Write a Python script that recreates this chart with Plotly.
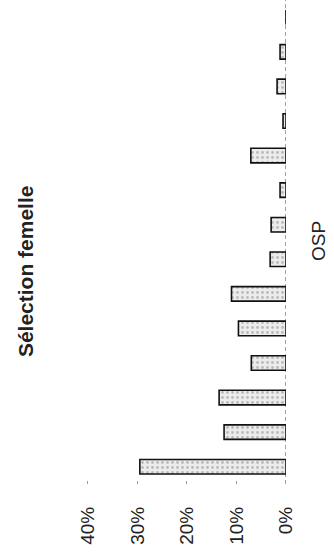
import plotly.graph_objects as go

# OSP categories, bottom to top as drawn
osp = [str(i) for i in range(1, 15)]
share = [0.295, 0.125, 0.135, 0.070, 0.096, 0.110, 0.032, 0.030,
         0.012, 0.071, 0.006, 0.018, 0.012, 0.0]

tick_vals = [0, 0.1, 0.2, 0.3, 0.4]
tick_text = ['0%', '10%', '20%', '30%', '40%']

title_text = 'Sélection femelle'
axis_text = 'OSP'

font = "Liberation Sans, Arial, sans-serif"

bars = go.Bar(
    x=share,
    y=osp,
    orientation='h',
    width=0.42,
    marker=dict(
        color='#ececec',
        line=dict(color='#111111', width=1.6),
        pattern=dict(shape='.', fgcolor='#8a8a8a', bgcolor='#ececec',
                     size=5, solidity=0.25),
    ),
    hovertemplate="OSP %{y}: %{x:.1%}<extra></extra>",
)

fig = go.Figure(data=bars)

fig.update_xaxes(range=[0.436, 0], tickvals=tick_vals, ticktext=tick_text,
                 tickangle=-90, ticks='inside', ticklen=3, tickcolor='#999999',
                 ticklabelstandoff=18, showgrid=False, zeroline=False,
                 showline=False, tickfont=dict(size=19, color='#222222'))
fig.update_yaxes(type='category', range=[-0.5, 13.5], showticklabels=False,
                 showgrid=False, zeroline=False, showline=False, ticks='')

# dashed baseline at 0%
fig.add_shape(type='line', xref='x', yref='paper', x0=0, x1=0, y0=0, y1=1,
              line=dict(color='#444444', width=1, dash='4px,3px'),
              layer='below')

fig.add_annotation(text='<b>' + title_text + '</b>', xref='paper', yref='paper',
                   x=-0.208, y=0.44, textangle=-90, showarrow=False,
                   xanchor='center', yanchor='middle',
                   font=dict(size=21, color='#222222'))
fig.add_annotation(text=axis_text, xref='paper', yref='paper',
                   x=1.148, y=0.502, textangle=-90, showarrow=False,
                   xanchor='center', yanchor='middle',
                   font=dict(size=19, color='#222222'))

fig.update_layout(width=334, height=554, margin=dict(l=70, r=48, t=0, b=70),
                  plot_bgcolor='white', paper_bgcolor='white',
                  font=dict(family=font), showlegend=False, bargap=0.58)

# drop the page's default body margin so the figure sits at the window corner
fig.write_html("out.html", config={'displayModeBar': False},
               post_script="document.body.style.margin='0';")
